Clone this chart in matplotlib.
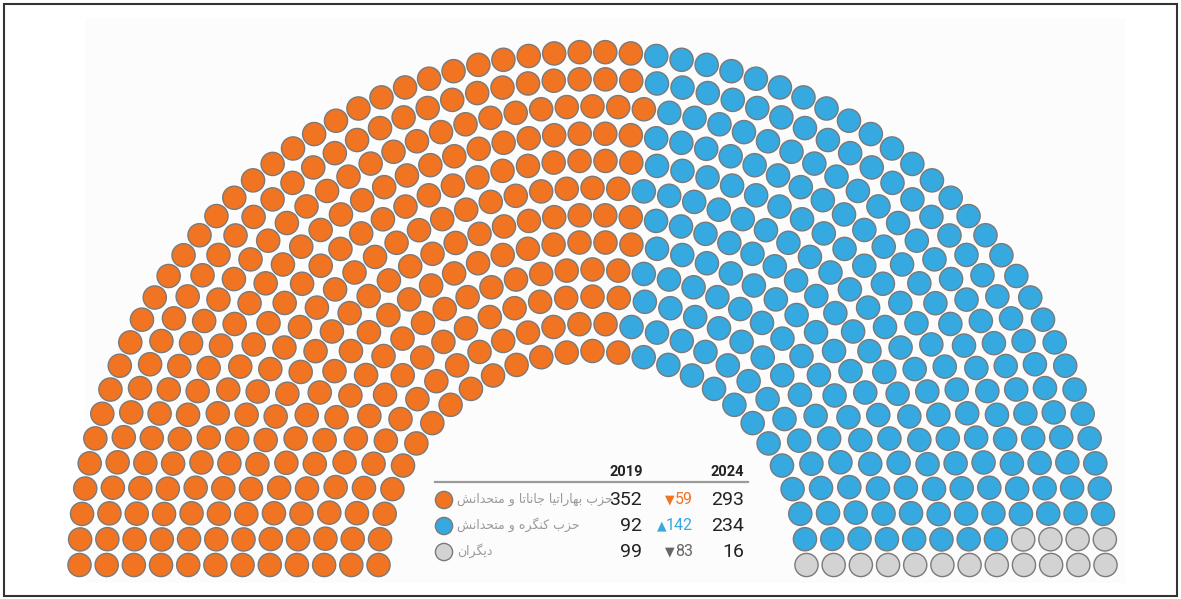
import numpy as np
import matplotlib
matplotlib.use("Agg")
import matplotlib.pyplot as plt
from matplotlib.patches import Circle, Rectangle

# Lok Sabha 2024 seats
parties = ["حزب بهاراتیا جاناتا و متحدانش", "حزب کنگره و متحدانش", "دیگران"]
seats_2024 = [293, 234, 16]
seats_2019 = [352, 92, 99]
change = [-59, 142, -83]
colors = ["#F07422", "#35A9E0", "#D3D3D3"]
change_colors = ["#F07422", "#35A9E0", "#666666"]
years = ["2019", "2024"]
n_rings = 12

# minimal Persian shaping (matplotlib has no complex text layout)
FORMS = {
    "ا": ("\uFE8D", "\uFE8E", None, None),
    "ب": ("\uFE8F", "\uFE90", "\uFE91", "\uFE92"),
    "ت": ("\uFE95", "\uFE96", "\uFE97", "\uFE98"),
    "ج": ("\uFE9D", "\uFE9E", "\uFE9F", "\uFEA0"),
    "ح": ("\uFEA1", "\uFEA2", "\uFEA3", "\uFEA4"),
    "د": ("\uFEA9", "\uFEAA", None, None),
    "ر": ("\uFEAD", "\uFEAE", None, None),
    "ز": ("\uFEAF", "\uFEB0", None, None),
    "ش": ("\uFEB5", "\uFEB6", "\uFEB7", "\uFEB8"),
    "م": ("\uFEE1", "\uFEE2", "\uFEE3", "\uFEE4"),
    "ن": ("\uFEE5", "\uFEE6", "\uFEE7", "\uFEE8"),
    "ه": ("\uFEE9", "\uFEEA", "\uFEEB", "\uFEEC"),
    "و": ("\uFEED", "\uFEEE", None, None),
    "ی": ("\uFBFC", "\uFBFD", "\uFBFE", "\uFBFF"),
    "ک": ("\uFB8E", "\uFB8F", "\uFB90", "\uFB91"),
    "گ": ("\uFB92", "\uFB93", "\uFB94", "\uFB95"),
}


def shape(s):
    out = []
    for i, ch in enumerate(s):
        if ch not in FORMS:
            out.append(ch)
            continue
        prev = s[i - 1] if i > 0 else ""
        nxt = s[i + 1] if i + 1 < len(s) else ""
        join_prev = prev in FORMS and FORMS[prev][2] is not None
        join_next = FORMS[ch][2] is not None and nxt in FORMS
        iso, fin, ini, med = FORMS[ch]
        if join_prev and join_next:
            out.append(med)
        elif join_prev:
            out.append(fin)
        elif join_next:
            out.append(ini)
        else:
            out.append(iso)
    return "".join(out)[::-1]


# seat layout: concentric rings, seats proportional to radius, filled by angle
W, H = 1181, 599
cx, cy = 592.5, 565
r_out, r_in = 513, 214
radii = np.linspace(r_in, r_out, n_rings)
total = sum(seats_2024)
raw = total * radii / radii.sum()
counts = np.floor(raw).astype(int)
rest = total - counts.sum()
counts[np.argsort(-(raw - counts))[:rest]] += 1

pts = []
for r, n in zip(radii, counts):
    for a in np.linspace(np.pi, 0, n):
        pts.append((a, r))
pts.sort(key=lambda p: (-p[0], p[1]))
seat_colors = np.repeat(colors, seats_2024)

fig = plt.figure(figsize=(W / 100, H / 100), dpi=100)
ax = fig.add_axes([0, 0, 1, 1])
ax.set_xlim(0, W)
ax.set_ylim(H, 0)
ax.set_aspect("equal")
ax.axis("off")

ax.add_patch(Rectangle((85, 18), 1040, 565, facecolor="#FCFCFC", edgecolor="none"))

for (a, r), c in zip(pts, seat_colors):
    x = cx + r * np.cos(a)
    y = cy - r * np.sin(a)
    ax.add_patch(Circle((x, y), 11.6, facecolor=c, edgecolor="#7A7A7A", lw=1.0))

# legend table
num_font = dict(family=["Roboto", "DejaVu Sans"], color="#222222")
ax.text(643, 472, years[0], ha="right", va="center", fontsize=10.5, weight="bold", **num_font)
ax.text(744, 472, years[1], ha="right", va="center", fontsize=10.5, weight="bold", **num_font)
ax.plot([435, 748], [482, 482], color="#9A9A9A", lw=1.6)

row_y = [500, 526, 552]
for i, y in enumerate(row_y):
    ax.add_patch(Circle((444, y), 8.6, facecolor=colors[i], edgecolor="#7A7A7A", lw=1.0))
    ax.text(457, y - 1, shape(parties[i]), ha="left", va="center", fontsize=9.0,
            color="#9A9A9A", family="DejaVu Sans")
    ax.text(642, y, str(seats_2019[i]), ha="right", va="center", fontsize=14, **num_font)
    ax.text(744, y, str(seats_2024[i]), ha="right", va="center", fontsize=14, **num_font)
    arrow = "▲" if change[i] > 0 else "▼"
    ax.text(693, y, str(abs(change[i])), ha="right", va="center", fontsize=11.5,
            color=change_colors[i], family=["Roboto", "DejaVu Sans"])
    n_digits = len(str(abs(change[i])))
    ax.text(693 - 8.2 * n_digits - 2, y, arrow, ha="right", va="center", fontsize=9,
            color=change_colors[i], family="DejaVu Sans")

# frame around the picture
fig.patches.append(Rectangle((0.003, 0.005), 0.994, 0.988, transform=fig.transFigure,
                             fill=False, edgecolor="#333333", lw=1.5))

fig.savefig("out.png", dpi=100, facecolor="white")
